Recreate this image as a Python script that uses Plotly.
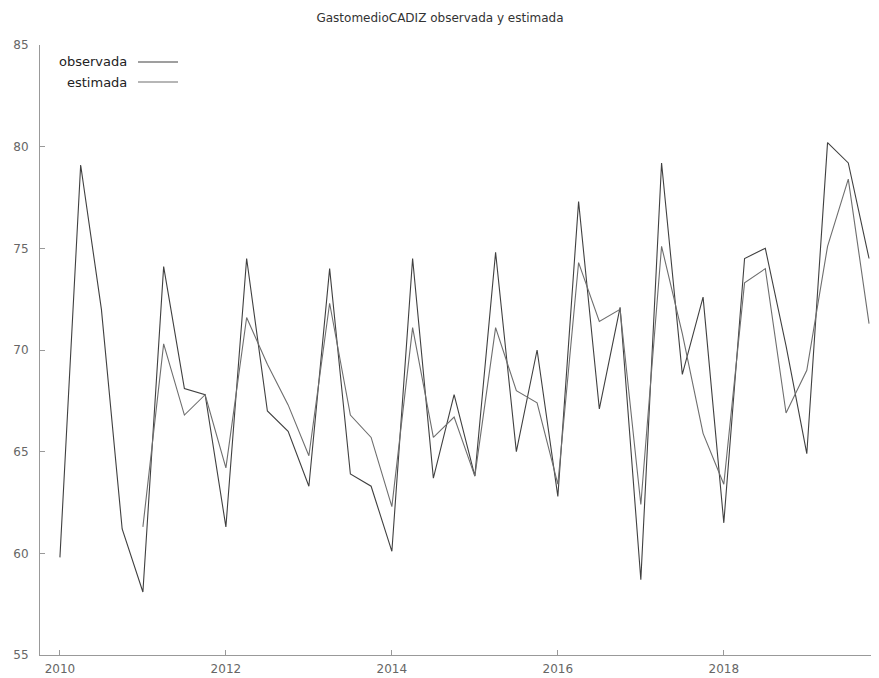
import plotly.graph_objects as go

start_year = 2010
n_quarters = 40
x_vals = [start_year + i * 0.25 for i in range(n_quarters)]

observada = [59.8, 79.1, 72.0, 61.2, 58.1, 74.1, 68.1, 67.8,
             61.3, 74.5, 67.0, 66.0, 63.3, 74.0, 63.9, 63.3,
             60.1, 74.5, 63.7, 67.8, 63.8, 74.8, 65.0, 70.0,
             62.8, 77.3, 67.1, 72.1, 58.7, 79.2, 68.8, 72.6,
             61.5, 74.5, 75.0, 70.2, 64.9, 80.2, 79.2, 74.5]

estimada = [None, None, None, None, 61.3, 70.3, 66.8, 67.8,
            64.2, 71.6, 69.3, 67.3, 64.8, 72.3, 66.8, 65.7,
            62.3, 71.1, 65.7, 66.7, 63.8, 71.1, 68.0, 67.4,
            63.4, 74.3, 71.4, 72.0, 62.4, 75.1, 70.8, 65.9,
            63.4, 73.3, 74.0, 66.9, 69.0, 75.1, 78.4, 71.3]

x_ticks = [2010, 2012, 2014, 2016, 2018]
y_ticks = [55, 60, 65, 70, 75, 80, 85]

title_text = "GastomedioCADIZ observada y estimada"
series_names = ["observada", "estimada"]
series_colors = ["#404040", "#6e6e6e"]

fig = go.Figure()
fig.add_trace(go.Scatter(x=x_vals, y=observada, mode="lines", name=series_names[0],
                         line=dict(color=series_colors[0], width=1.1), showlegend=False))
fig.add_trace(go.Scatter(x=x_vals, y=estimada, mode="lines", name=series_names[1],
                         line=dict(color=series_colors[1], width=1.1), showlegend=False))

# page body has an 8px margin; figure sized so the plot area lands where the reference has it
L, T, B = 32, 37, 23
W, H = 871, 670
plot_w = W - L
plot_h = H - T - B

font_family = "DejaVu Sans"
fig.update_layout(
    width=W, height=H,
    margin=dict(l=L, r=0, t=T, b=B, autoexpand=False),
    paper_bgcolor="white", plot_bgcolor="white",
    title=dict(text=title_text, x=(440 - 8) / W, xanchor="center", y=1 - (18 - 8) / H, yanchor="middle",
               font=dict(family=font_family, size=12, color="#333333")),
    xaxis=dict(range=[2009.76, 2019.87], tickvals=x_ticks, ticktext=[str(t) for t in x_ticks],
               showgrid=False, zeroline=False, showline=True, linecolor="#999999", linewidth=1,
               ticks="inside", ticklen=5, tickcolor="#999999", ticklabelstandoff=3,
               tickfont=dict(family=font_family, size=12, color="#666666")),
    yaxis=dict(range=[55, 85], tickvals=y_ticks, ticktext=[str(t) for t in y_ticks],
               showgrid=False, zeroline=False, showline=True, linecolor="#999999", linewidth=1,
               ticks="inside", ticklen=5, tickcolor="#999999", ticklabelstandoff=8,
               tickfont=dict(family=font_family, size=12, color="#666666")),
)

# gnuplot-style key: text right-aligned, line sample to the right
key_rows = [62, 82]
for name, color, ypix in zip(series_names, series_colors, key_rows):
    yp = 1 - (ypix - 8 - T) / plot_h
    fig.add_annotation(xref="paper", yref="paper", x=(129 - 8 - L) / plot_w, y=yp,
                       text=name, showarrow=False, xanchor="right", yanchor="middle",
                       font=dict(family=font_family, size=13, color="#222222"))
    fig.add_shape(type="line", xref="paper", yref="paper",
                  x0=(138 - 8 - L) / plot_w, x1=(178 - 8 - L) / plot_w, y0=yp, y1=yp,
                  line=dict(color=color, width=1.1))

fig.write_html("out.html")
